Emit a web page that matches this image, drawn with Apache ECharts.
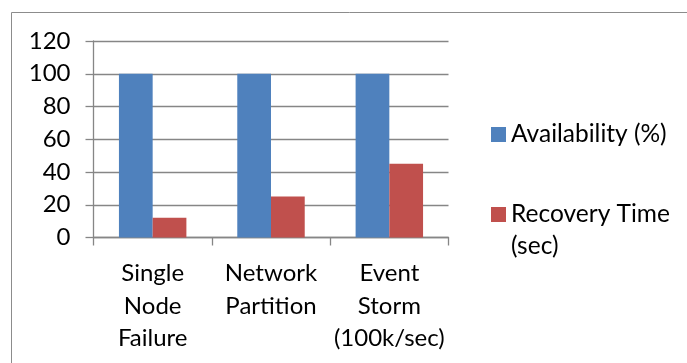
<!DOCTYPE html>
<html>
<head>
<meta charset="utf-8">
<script src="https://cdn.jsdelivr.net/npm/echarts@6/dist/echarts.min.js"></script>
<style>
  html, body { margin: 0; padding: 0; background: #ffffff; }
  #chart { width: 687px; height: 363px; }
</style>
</head>
<body>
<div id="chart"></div>
<script>
// Fault scenarios on the x axis
const categories = ['Single\nNode\nFailure', 'Network\nPartition', 'Event\nStorm\n(100k/sec)'];
// Series values
const availability = [100, 100, 100];
const recoveryTime = [12, 25, 45];
// Value axis ticks
const yTicks = [0, 20, 40, 60, 80, 100, 120];

const FONT = 'Lato';
const TEXT = '#000000';
const GRID = '#868686';

const chart = echarts.init(document.getElementById('chart'), null, { renderer: 'canvas' });

chart.setOption({
  backgroundColor: '#ffffff',
  animation: false,
  textStyle: { fontFamily: FONT },
  graphic: [{
    type: 'rect',
    shape: { x: 11.5, y: 12.5, width: 720, height: 400 },
    style: { fill: 'none', stroke: '#8c8c8c', lineWidth: 1 },
    silent: true
  }],
  grid: { left: 93.5, right: 238.5, top: 41, bottom: 125.5, containLabel: false },
  legend: [{
    data: ['Availability (%)'],
    orient: 'vertical',
    left: 491,
    top: 120,
    padding: 0,
    itemWidth: 15,
    itemHeight: 15,
    icon: 'rect',
    itemGap: 0,
    textStyle: { fontFamily: FONT, fontSize: 24.5, color: TEXT, lineHeight: 29 }
  }, {
    data: ['Recovery Time (sec)'],
    orient: 'vertical',
    left: 491,
    top: 166.5,
    padding: 0,
    itemWidth: 15,
    itemHeight: 15,
    icon: 'rect',
    // leading blank line keeps the first text line level with the swatch
    formatter: () => ' \nRecovery Time\n(sec)',
    textStyle: { fontFamily: FONT, fontSize: 24.5, color: TEXT, lineHeight: 32 }
  }],
  xAxis: {
    type: 'category',
    data: categories,
    boundaryGap: true,
    axisLine: { show: true, lineStyle: { color: GRID, width: 1.3 } },
    axisTick: { show: true, length: 8, alignWithLabel: false, lineStyle: { color: GRID, width: 1.3 } },
    axisLabel: {
      interval: 0, margin: 20, fontFamily: FONT, fontSize: 24,
      color: TEXT, lineHeight: 32.5, align: 'center'
    }
  },
  yAxis: {
    type: 'value',
    min: yTicks[0],
    max: yTicks[yTicks.length - 1],
    interval: yTicks[1] - yTicks[0],
    axisLine: { show: true, lineStyle: { color: GRID, width: 1.3 } },
    axisTick: { show: true, length: 8, lineStyle: { color: GRID, width: 1.3 } },
    splitLine: { show: true, lineStyle: { color: GRID, width: 1.3 } },
    axisLabel: { margin: 23, fontFamily: FONT, fontSize: 24, color: TEXT }
  },
  series: [{
    name: 'Availability (%)',
    type: 'bar',
    data: availability,
    barGap: '0%',
    barCategoryGap: '43%',
    itemStyle: { color: '#4f81bd' }
  }, {
    name: 'Recovery Time (sec)',
    type: 'bar',
    data: recoveryTime,
    barGap: '0%',
    barCategoryGap: '43%',
    itemStyle: { color: '#c0504d' }
  }]
});
</script>
</body>
</html>
